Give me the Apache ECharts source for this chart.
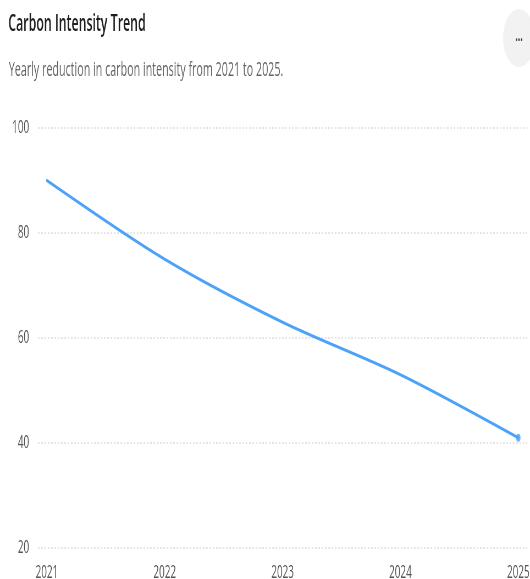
<!DOCTYPE html>
<html>
<head>
<meta charset="utf-8">
<title>Carbon Intensity Trend</title>
<script src="https://cdn.jsdelivr.net/npm/echarts@6/dist/echarts.min.js"></script>
<style>
  html, body { margin: 0; padding: 0; background: #fff; overflow: hidden; }
  #wrap { width: 530px; height: 579px; overflow: hidden; }
  /* the card is laid out wide and drawn narrow */
  #chart { width: 964px; height: 579px; transform: scaleX(0.5498); transform-origin: 0 0; }
</style>
</head>
<body>
<div id="wrap"><div id="chart"></div></div>
<script>
// Carbon intensity by year
const years = [2021, 2022, 2023, 2024, 2025];
const intensity = [90, 75, 63, 53, 41];
const yTicks = { min: 20, max: 100, step: 20 };

const titleText = 'Carbon Intensity Trend';
const subtitleText = 'Yearly reduction in carbon intensity from 2021 to 2025.';

const font = '"Open Sans", "Noto Sans", sans-serif';
const lineColor = '#4ba2f8';

const points = years.map((y, i) => [y, intensity[i]]);
const lastPoint = points[points.length - 1];

const chart = echarts.init(document.getElementById('chart'), null, { renderer: 'canvas' });

chart.setOption({
  backgroundColor: '#ffffff',
  animation: false,
  title: [
    {
      text: titleText,
      left: 10,
      top: 8,
      textStyle: { fontFamily: font, fontSize: 22.5, fontWeight: 600, color: '#1f1f1f' }
    },
    {
      text: subtitleText,
      left: 11,
      top: 55,
      textStyle: { fontFamily: font, fontSize: 19.5, fontWeight: 'normal', color: '#666666' }
    }
  ],
  graphic: [
    {
      type: 'circle',
      shape: { cx: 944, cy: 38, r: 29 },
      style: { fill: '#f2f2f2' },
      z: 10
    },
    {
      type: 'text',
      x: 944,
      y: 36,
      style: {
        text: '...',
        fill: '#444',
        font: 'bold 16px ' + font,
        align: 'center',
        verticalAlign: 'middle'
      },
      z: 11
    }
  ],
  grid: { left: 69, right: 5, top: 128, bottom: 31, containLabel: false, outerBoundsMode: 'none' },
  xAxis: {
    type: 'value',
    min: years[0] - 0.076,
    max: years[years.length - 1] + 0.076,
    axisLine: { show: false },
    axisTick: { show: false },
    splitLine: { show: false },
    axisLabel: {
      customValues: years,
      formatter: v => String(v),
      margin: 16,
      fontFamily: font,
      fontSize: 18,
      color: '#555'
    }
  },
  yAxis: {
    type: 'value',
    min: yTicks.min,
    max: yTicks.max,
    interval: yTicks.step,
    axisLine: { show: false },
    axisTick: { show: false },
    axisLabel: { margin: 16, fontFamily: font, fontSize: 18, color: '#555' },
    splitLine: { lineStyle: { color: '#dddddd', width: 1.5, type: [3, 3] } }
  },
  series: [
    {
      type: 'line',
      data: points,
      smooth: 0.3,
      symbol: 'none',
      lineStyle: { color: lineColor, width: 3, cap: 'round' },
      z: 3
    },
    {
      type: 'scatter',
      data: [lastPoint],
      symbol: 'circle',
      symbolSize: 8,
      itemStyle: { color: lineColor },
      z: 4
    }
  ]
});
</script>
</body>
</html>
